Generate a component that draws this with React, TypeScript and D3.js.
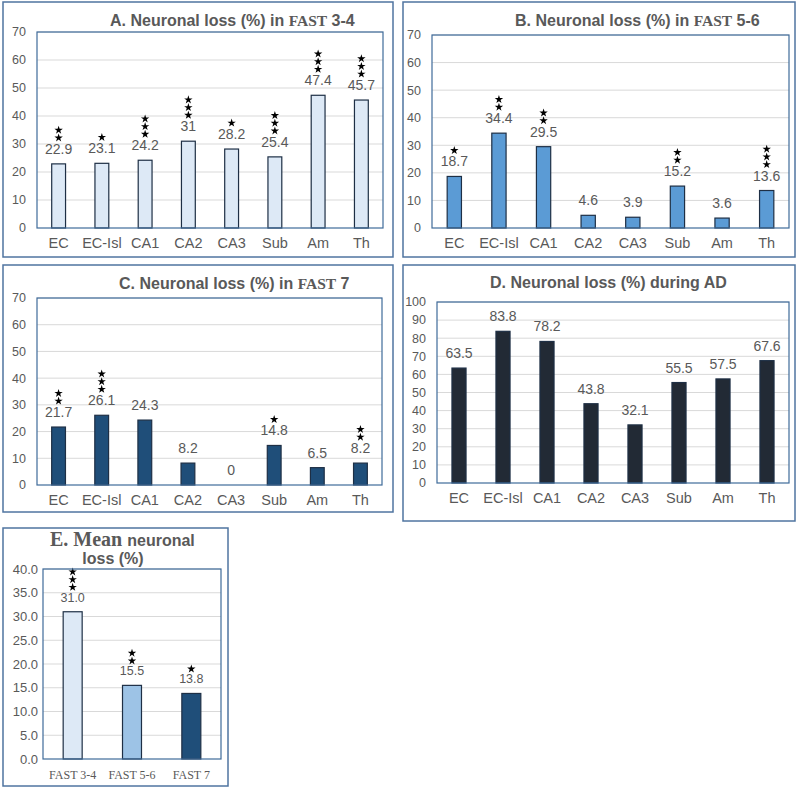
import React from "react";
import * as d3 from "d3";

const regions = ["EC", "EC-Isl", "CA1", "CA2", "CA3", "Sub", "Am", "Th"];
const lossFast34 = [22.9, 23.1, 24.2, 31, 28.2, 25.4, 47.4, 45.7];
const starsFast34 = [2, 1, 3, 3, 1, 3, 3, 3];
const lossFast56 = [18.7, 34.4, 29.5, 4.6, 3.9, 15.2, 3.6, 13.6];
const starsFast56 = [1, 2, 2, 0, 0, 2, 0, 3];
const lossFast7 = [21.7, 26.1, 24.3, 8.2, 0, 14.8, 6.5, 8.2];
const starsFast7 = [2, 3, 0, 0, 0, 1, 0, 2];
const lossAD = [63.5, 83.8, 78.2, 43.8, 32.1, 55.5, 57.5, 67.6];
const starsAD = [0, 0, 0, 0, 0, 0, 0, 0];
const stages = ["FAST 3-4", "FAST 5-6", "FAST 7"];
const meanLoss = [31.0, 15.5, 13.8];
const meanStars = [3, 2, 1];

const SANS = "'Liberation Sans', Arial, sans-serif";
const SERIF = "'Liberation Serif', 'Times New Roman', serif";
const GRAY = "#595959";
const starPath = d3.symbol(d3.symbolStar, 22)() as string;

type PanelProps = {
  outer: { x: number; y: number; w: number; h: number };
  plot: { l: number; r: number; t: number; b: number };
  yMax: number;
  yStep: number;
  cats: string[];
  values: number[];
  stars: number[];
  fills: string[];
  title: React.ReactNode;
  labelFmt: (v: number) => string;
  tickFmt: (v: number) => string;
  tickGap: number;
  tickFont: number;
  labelFont: number;
  xFont: number;
  xFamily: string;
  barFrac: number;
};

function Panel(p: PanelProps) {
  const x = d3.scaleBand<string>().domain(p.cats).range([p.plot.l, p.plot.r]);
  const y = d3.scaleLinear().domain([0, p.yMax]).range([p.plot.b, p.plot.t]);
  const ticks = d3.range(0, p.yMax + p.yStep / 2, p.yStep);
  const bw = x.bandwidth() * p.barFrac;
  return (
    <g>
      <rect x={p.outer.x} y={p.outer.y} width={p.outer.w} height={p.outer.h} fill="#fff" stroke="#4f74a0" strokeWidth={1.5} />
      {ticks.slice(1).map((t) => (
        <line key={"g" + t} x1={p.plot.l} x2={p.plot.r} y1={y(t)} y2={y(t)} stroke="#d9d9d9" strokeWidth={1} />
      ))}
      {ticks.map((t) => (
        <text key={"t" + t} x={p.plot.l - p.tickGap} y={y(t)} dy="0.35em" textAnchor="end" fontFamily={SANS} fontSize={p.tickFont} fill={GRAY}>
          {p.tickFmt(t)}
        </text>
      ))}
      {p.values.map((v, i) => {
        const cx = (x(p.cats[i]) as number) + x.bandwidth() / 2;
        const top = y(v);
        const lblY = top - 10;
        return (
          <g key={"b" + i}>
            {v > 0 && (
              <rect x={cx - bw / 2} y={top} width={bw} height={p.plot.b - top} fill={p.fills[i % p.fills.length]} stroke="#1e2f45" strokeWidth={1.2} />
            )}
            <text x={cx} y={lblY} textAnchor="middle" fontFamily={SANS} fontSize={p.labelFont} fill={GRAY}>
              {p.labelFmt(v)}
            </text>
            {d3.range(p.stars[i]).map((k) => (
              <path key={k} d={starPath} transform={`translate(${cx},${lblY - p.labelFont - 2 - k * 7.7})`} fill="#000" />
            ))}
          </g>
        );
      })}
      <rect x={p.plot.l} y={p.plot.t} width={p.plot.r - p.plot.l} height={p.plot.b - p.plot.t} fill="none" stroke="#3f6b9a" strokeWidth={1.2} />
      {p.cats.map((c) => (
        <text key={"x" + c} x={(x(c) as number) + x.bandwidth() / 2} y={p.plot.b + 20} textAnchor="middle" fontFamily={p.xFamily} fontSize={p.xFont} fill={GRAY}>
          {c}
        </text>
      ))}
      {p.title}
    </g>
  );
}

const intFmt = (v: number) => String(v);
const oneFmt = (v: number) => v.toFixed(1);

function Title({ x, y, sans, serif, rest }: { x: number; y: number; sans: string; serif?: string; rest?: string }) {
  return (
    <text x={x} y={y} fontFamily={SANS} fontSize={16} fontWeight="bold" fill={GRAY}>
      {sans}
      {serif && <tspan fontFamily={SERIF} fontSize={15.5}>{serif}</tspan>}
      {rest && <tspan>{rest}</tspan>}
    </text>
  );
}

export default function App() {
  const common = {
    cats: regions,
    labelFmt: intFmt,
    tickFmt: intFmt,
    tickGap: 11,
    tickFont: 12.5,
    labelFont: 14,
    xFont: 14.5,
    xFamily: SANS,
    barFrac: 0.32,
  };
  return (
    <svg width={800} height={788} style={{ position: "absolute", left: 0, top: 0 }}>
      <rect width={800} height={788} fill="#fff" />
      <Panel
        {...common}
        outer={{ x: 3, y: 2, w: 390, h: 255 }}
        plot={{ l: 37, r: 383, t: 32, b: 228 }}
        yMax={70}
        yStep={10}
        values={lossFast34}
        stars={starsFast34}
        fills={["#dde9f6"]}
        title={<Title x={110} y={26} sans="A. Neuronal loss (%) in " serif="FAST" rest=" 3-4" />}
      />
      <Panel
        {...common}
        outer={{ x: 403, y: 2, w: 392, h: 255 }}
        plot={{ l: 432, r: 789, t: 35, b: 228 }}
        yMax={70}
        yStep={10}
        values={lossFast56}
        stars={starsFast56}
        fills={["#5b9bd5"]}
        title={<Title x={515} y={26} sans="B. Neuronal loss (%) in " serif="FAST" rest=" 5-6" />}
      />
      <Panel
        {...common}
        outer={{ x: 3, y: 265, w: 390, h: 247 }}
        plot={{ l: 37, r: 382, t: 298, b: 485 }}
        yMax={70}
        yStep={10}
        values={lossFast7}
        stars={starsFast7}
        fills={["#1f4e79"]}
        title={<Title x={119} y={289} sans="C. Neuronal loss (%) in " serif="FAST" rest=" 7" />}
      />
      <Panel
        {...common}
        outer={{ x: 403, y: 265, w: 392, h: 256 }}
        plot={{ l: 437, r: 789, t: 302, b: 483 }}
        yMax={100}
        yStep={10}
        values={lossAD}
        stars={starsAD}
        fills={["#222a35"]}
        title={<Title x={490} y={288} sans="D. Neuronal loss (%) during AD" />}
      />
      <Panel
        {...common}
        cats={stages}
        outer={{ x: 3, y: 528, w: 225, h: 258 }}
        plot={{ l: 43, r: 221, t: 569, b: 759 }}
        yMax={40}
        yStep={5}
        values={meanLoss}
        stars={meanStars}
        fills={["#dde9f6", "#9dc3e6", "#1f4e79"]}
        labelFmt={oneFmt}
        tickFmt={oneFmt}
        tickGap={5}
        tickFont={13}
        labelFont={12.5}
        xFont={12}
        xFamily={SERIF}
        barFrac={0.32}
        title={
          <g>
            <text x={50} y={546} fontWeight="bold" fill={GRAY}>
              <tspan fontFamily={SERIF} fontSize={20}>E. Mean </tspan>
              <tspan fontFamily={SANS} fontSize={16}>neuronal</tspan>
            </text>
            <text x={113} y={564} textAnchor="middle" fontFamily={SANS} fontSize={16} fontWeight="bold" fill={GRAY}>
              loss (%)
            </text>
          </g>
        }
      />
    </svg>
  );
}
